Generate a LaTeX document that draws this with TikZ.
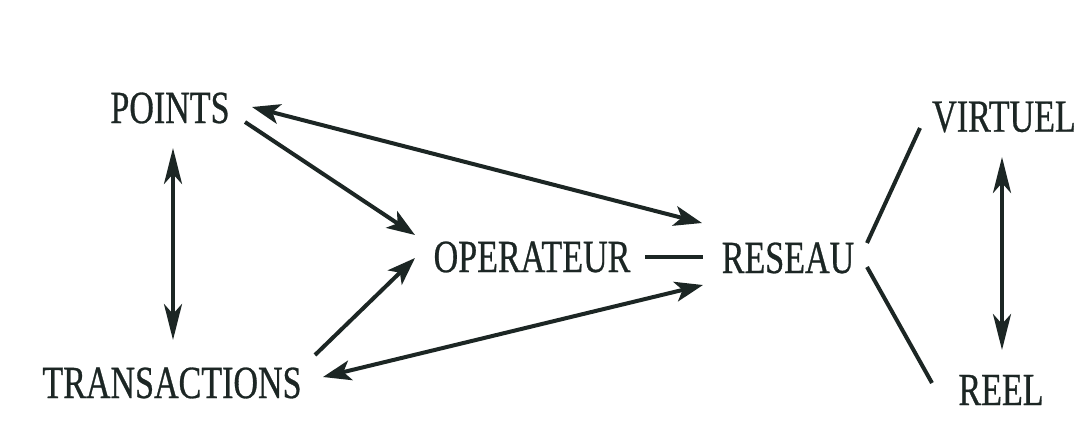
\documentclass[tikz,border=0pt]{standalone}
\usepackage{fontspec}
\setmainfont[FakeStretch=0.74,FakeBold=0.6]{Liberation Serif}
\usetikzlibrary{arrows.meta,calc}
\definecolor{ink}{HTML}{1C2624}
\tikzset{
  lbl/.style={inner sep=0pt, text=ink, font=\fontsize{46}{52}\selectfont},
  conn/.style={draw=ink, line width=4pt},
  arr/.style={conn, -{Stealth[length=28pt,width=20pt,inset=7pt]}},
  darr/.style={conn, {Stealth[length=28pt,width=20pt,inset=7pt]}-{Stealth[length=28pt,width=20pt,inset=7pt]}},
  varr/.style={conn, {Stealth[length=36pt,width=18pt,inset=10pt]}-{Stealth[length=36pt,width=18pt,inset=10pt]}}
}
\begin{document}
\begin{tikzpicture}[x=1pt,y=-1pt]
\useasboundingbox[fill=white] (0,0) rectangle (1090,421);
\node[lbl] (points) at (170,108) {POINTS};
\node[lbl] (trans) at (172,383) {TRANSACTIONS};
\node[lbl] (oper) at (532,257) {OPERATEUR};
\node[lbl] (res) at (788,258) {RESEAU};
\node[lbl] (virt) at (1004,117) {VIRTUEL};
\node[lbl] (reel) at (1001,390) {REEL};
% left vertical
\draw[varr] ($(points)+(3,40)$) -- ($(trans)+(1,-43)$);
% points -> operateur
\draw[arr] ($(points)+(75,14)$) -- ($(oper)+(-117,-22)$);
% points <-> reseau
\draw[darr] ($(points)+(82,-1)$) -- ($(res)+(-86,-35)$);
% transactions -> operateur
\draw[arr] ($(trans)+(143,-28)$) -- ($(oper)+(-117,1)$);
% transactions <-> reseau
\draw[darr] ($(trans)+(151,-6)$) -- ($(res)+(-85,27)$);
% operateur -- reseau
\draw[conn] ($(oper)+(113,0)$) -- ($(res)+(-85,-1)$);
% reseau -- virtuel / reel
\draw[conn] ($(res)+(79,-15)$) -- ($(virt)+(-84,11)$);
\draw[conn] ($(res)+(79,9)$) -- ($(reel)+(-69,-7)$);
% right vertical
\draw[varr] ($(virt)+(-2,40)$) -- ($(reel)+(1,-40)$);
\end{tikzpicture}
\end{document}
